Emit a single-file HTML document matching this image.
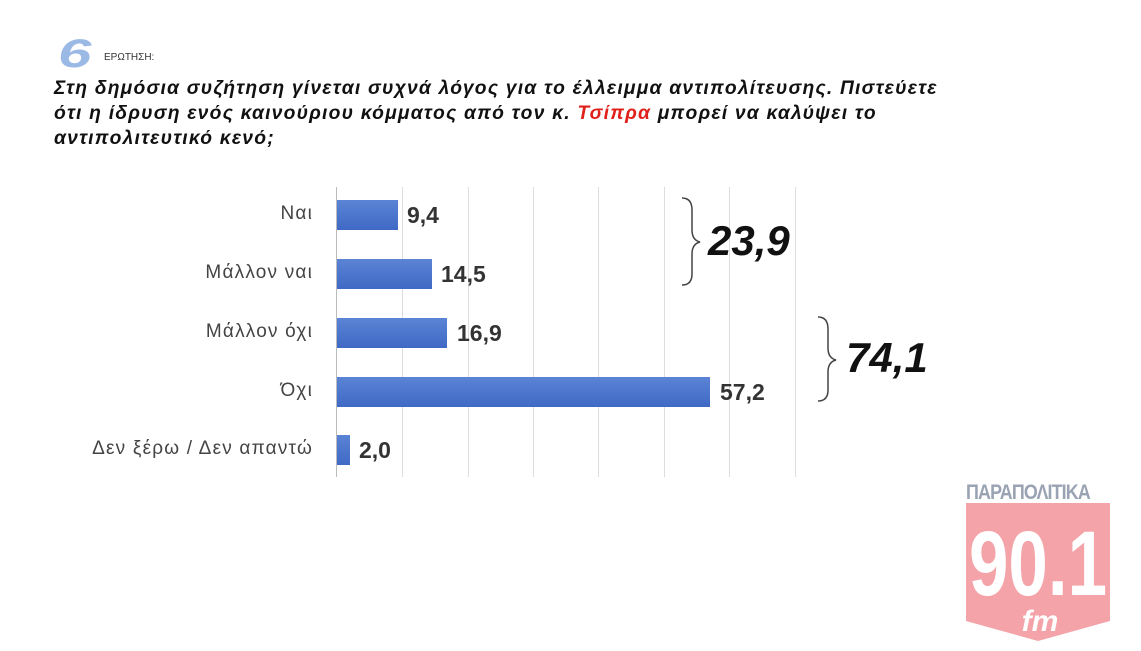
<!DOCTYPE html>
<html><head><meta charset="utf-8"><style>
body{margin:0;width:1141px;height:651px;background:#fff;overflow:hidden;position:relative;font-family:"Liberation Sans","DejaVu Sans",sans-serif}
.a{position:absolute}
.q{left:54px;top:76px;font-size:19.3px;letter-spacing:1.2px;font-weight:bold;font-style:italic;line-height:25px;color:#111;width:1000px;white-space:nowrap}
.lab{right:828px;font-size:19px;letter-spacing:1.2px;color:#444;text-align:right;white-space:nowrap}
.bar{left:337px;height:30px;background:linear-gradient(#5b84d6,#3f69c4);}
.val{font-size:23px;font-weight:bold;color:#333}
.g{top:187px;width:1px;height:290px;background:#ddd}
.big{font-size:42px;font-weight:bold;font-style:italic;color:#111}
</style></head><body>
<div class="a" style="left:58px;top:32px;font-size:40px;font-weight:bold;font-style:italic;color:#9ab9e4;transform:scaleX(1.5);transform-origin:left">6</div>
<div class="a" style="left:104px;top:52px;font-size:10px;color:#333">ΕΡΩΤΗΣΗ:</div>
<div class="a q">Στη δημόσια συζήτηση γίνεται συχνά λόγος για το έλλειμμα αντιπολίτευσης. Πιστεύετε<br>ότι η ίδρυση ενός καινούριου κόμματος από τον κ. <span style="color:#e0201a">Τσίπρα</span> μπορεί να καλύψει το<br>αντιπολιτευτικό κενό;</div>
<div class="a g" style="left:402px"></div><div class="a g" style="left:468px"></div><div class="a g" style="left:533px"></div><div class="a g" style="left:598px"></div><div class="a g" style="left:664px"></div><div class="a g" style="left:729px"></div><div class="a g" style="left:795px"></div>
<div class="a" style="left:336px;top:187px;width:1px;height:290px;background:#bbb"></div>
<div class="a lab" style="top:203px">Ναι</div>
<div class="a lab" style="top:262px">Μάλλον ναι</div>
<div class="a lab" style="top:321px">Μάλλον όχι</div>
<div class="a lab" style="top:380px">Όχι</div>
<div class="a lab" style="top:438px">Δεν ξέρω / Δεν απαντώ</div>
<div class="a bar" style="top:200px;width:61px"></div><div class="a val" style="left:407px;top:202px">9,4</div>
<div class="a bar" style="top:259px;width:95px"></div><div class="a val" style="left:441px;top:261px">14,5</div>
<div class="a bar" style="top:318px;width:110px"></div><div class="a val" style="left:457px;top:320px">16,9</div>
<div class="a bar" style="top:377px;width:373px"></div><div class="a val" style="left:720px;top:379px">57,2</div>
<div class="a bar" style="top:435px;width:13px"></div><div class="a val" style="left:359px;top:437px">2,0</div>
<svg class="a" style="left:670px;top:190px" width="180" height="220"><g fill="none" stroke="#444" stroke-width="1.5">
<path d="M12 8 Q22 8 22 20 L22 40 Q22 50 30 52 Q22 54 22 64 L22 84 Q22 95 12 95"/>
<path d="M148 127 Q158 127 158 139 L158 158 Q158 168 166 170 Q158 172 158 182 L158 200 Q158 211 148 211"/></g></svg>
<div class="a big" style="left:708px;top:217px">23,9</div>
<div class="a big" style="left:846px;top:334px">74,1</div>
<div class="a" style="left:966px;top:481px;font-size:21px;font-weight:bold;color:#9aa3b3;letter-spacing:-1px;transform:scaleX(0.85);transform-origin:left">ΠΑΡΑΠΟΛΙΤΙΚΑ</div>
<svg class="a" style="left:966px;top:503px" width="146" height="140"><path d="M0 0H144V118L72 138L0 118Z" fill="#f4a3a8"/>
<text x="72" y="92" text-anchor="middle" font-family="Liberation Sans" font-weight="bold" font-size="92" fill="#fff" textLength="138" lengthAdjust="spacingAndGlyphs">90.1</text>
<text x="74" y="128" text-anchor="middle" font-family="Liberation Sans" font-weight="bold" font-style="italic" font-size="30" fill="#fff">fm</text></svg>
</body></html>
